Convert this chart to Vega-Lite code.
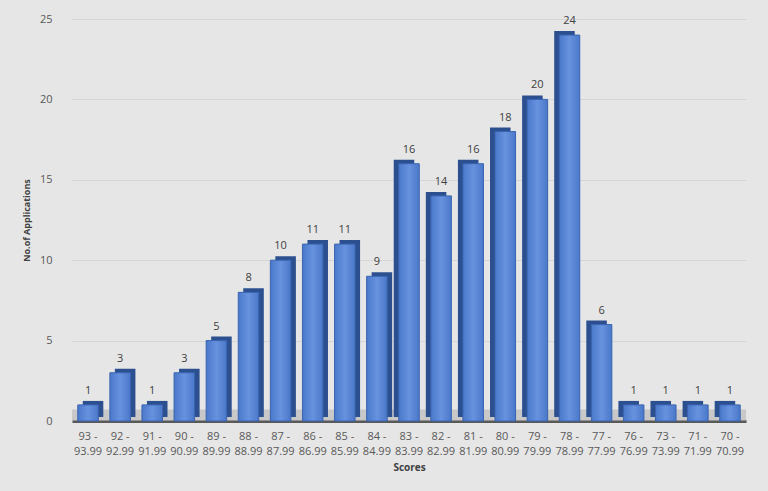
{
  "$schema": "https://vega.github.io/schema/vega-lite/v6.json",
  "autosize": "none",
  "width": 674,
  "height": 402,
  "padding": {"left": 72, "top": 19, "right": 22, "bottom": 70},
  "background": "#e6e6e6",
  "config": {
    "view": {"stroke": null},
    "font": "Open Sans",
    "axis": {"labelFont": "Open Sans", "titleFont": "Open Sans", "labelColor": "#595959", "titleColor": "#404040"}
  },
  "datasets": {
    "bins": [
      {"score": "93 - 93.99", "count": 1},
      {"score": "92 - 92.99", "count": 3},
      {"score": "91 - 91.99", "count": 1},
      {"score": "90 - 90.99", "count": 3},
      {"score": "89 - 89.99", "count": 5},
      {"score": "88 - 88.99", "count": 8},
      {"score": "87 - 87.99", "count": 10},
      {"score": "86 - 86.99", "count": 11},
      {"score": "85 - 85.99", "count": 11},
      {"score": "84 - 84.99", "count": 9},
      {"score": "83 - 83.99", "count": 16},
      {"score": "82 - 82.99", "count": 14},
      {"score": "81 - 81.99", "count": 16},
      {"score": "80 - 80.99", "count": 18},
      {"score": "79 - 79.99", "count": 20},
      {"score": "78 - 78.99", "count": 24},
      {"score": "77 - 77.99", "count": 6},
      {"score": "76 - 76.99", "count": 1},
      {"score": "73 - 73.99", "count": 1},
      {"score": "71 - 71.99", "count": 1},
      {"score": "70 - 70.99", "count": 1}
    ]
  },
  "data": {"name": "bins"},
  "encoding": {
    "x": {
      "field": "score", "type": "nominal", "sort": null,
      "scale": {"paddingInner": 0.36, "paddingOuter": 0.18},
      "axis": {
        "title": "Scores", "titleFontSize": 10, "titleFontWeight": "bold", "titlePadding": 6,
        "labelAngle": 0, "labelFontSize": 11, "labelPadding": 9, "labelLineHeight": 15,
        "ticks": false, "domainColor": "#595959", "domainWidth": 3,
        "labelExpr": "[split(datum.label, ' - ')[0] + ' -', split(datum.label, ' - ')[1]]"
      }
    },
    "y": {
      "field": "count", "type": "quantitative",
      "scale": {"domain": [0, 25]},
      "axis": {
        "title": "No.of Applications", "titleFontSize": 9, "titleFontWeight": "bold", "titlePadding": 8,
        "values": [0, 5, 10, 15, 20, 25], "labelFontSize": 11, "labelPadding": 20,
        "ticks": false, "domain": false, "gridColor": "#d6d6d6", "gridWidth": 1
      }
    }
  },
  "layer": [
    {
      "data": {"values": [{"v": 0}]},
      "mark": {"type": "rule", "color": "#c8c8c8", "strokeWidth": 11, "yOffset": -6},
      "encoding": {"x": null, "y": {"field": "v", "type": "quantitative"}}
    },
    {
      "transform": [{"filter": "indexof(['77 - 77.99','78 - 78.99','79 - 79.99','80 - 80.99','81 - 81.99','82 - 82.99','83 - 83.99','76 - 76.99','73 - 73.99','71 - 71.99','70 - 70.99'], datum.score) < 0"}],
      "mark": {"type": "bar", "width": {"band": 1}, "color": "#2c4f8f", "xOffset": 5, "yOffset": -4}
    },
    {
      "transform": [{"filter": "indexof(['77 - 77.99','78 - 78.99','79 - 79.99','80 - 80.99','81 - 81.99','82 - 82.99','83 - 83.99','76 - 76.99','73 - 73.99','71 - 71.99','70 - 70.99'], datum.score) >= 0"}],
      "mark": {"type": "bar", "width": {"band": 1}, "color": "#2c4f8f", "xOffset": -5, "yOffset": -4}
    },
    {
      "mark": {
        "type": "bar", "width": {"band": 1}, "stroke": "#3a64b0", "strokeWidth": 1,
        "color": {"x1": 0, "y1": 0, "x2": 1, "y2": 0, "gradient": "linear",
          "stops": [{"offset": 0, "color": "#4a78ca"}, {"offset": 0.5, "color": "#6792de"}, {"offset": 1, "color": "#4a78ca"}]}
      }
    },
    {
      "mark": {"type": "text", "dy": -9, "fontSize": 11, "color": "#404040", "baseline": "bottom"},
      "encoding": {"text": {"field": "count", "type": "quantitative"}}
    }
  ]
}
